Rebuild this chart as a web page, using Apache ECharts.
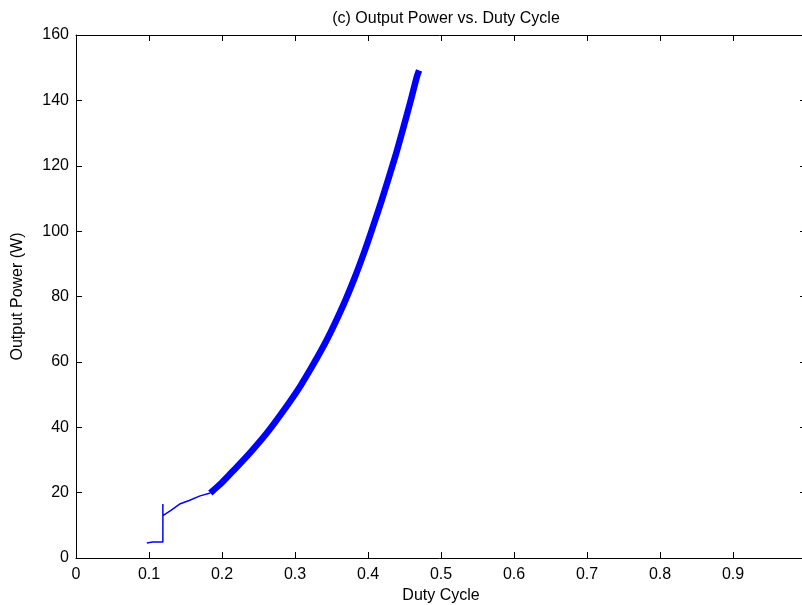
<!DOCTYPE html>
<html>
<head>
<meta charset="utf-8">
<script src="https://cdn.jsdelivr.net/npm/echarts@6/dist/echarts.min.js"></script>
<style>
  html, body { margin: 0; padding: 0; background: #fff; }
  #chart { width: 802px; height: 605px; }
</style>
</head>
<body>
<div id="chart"></div>
<script>
// Start-up transient: duty cycle and output power (W)
const startDuty  = [0.097, 0.099, 0.105, 0.112, 0.119, 0.119, 0.119, 0.121, 0.130, 0.142, 0.155, 0.170, 0.184];
const startPower = [4.6,   5.0,   4.9,   4.9,   4.9,   16.5,  13.0,  13.3,  14.6,  16.5,  17.6,  19.0,  19.9];

// Tracking trajectory: duty cycle and output power (W)
const trackDuty  = [0.184, 0.200, 0.215, 0.238, 0.262, 0.284, 0.307, 0.325, 0.344, 0.366, 0.382, 0.396, 0.407, 0.419, 0.437, 0.448, 0.458, 0.467, 0.470];
const trackPower = [19.9,  23.1,  26.6,  32.1,  38.4,  45.0,  52.5,  59.2,  66.9,  77.3,  85.9,  94.3,  101.5, 109.6, 122.6, 131.3, 139.5, 147.3, 149.2];

// Axis ticks
const xTicks = [0, 0.1, 0.2, 0.3, 0.4, 0.5, 0.6, 0.7, 0.8, 0.9, 1];
const yTicks = [0, 20, 40, 60, 80, 100, 120, 140, 160];

const FONT = '"Liberation Sans", Arial, sans-serif';
const TXT = '#000';

const pairs = (xs, ys) => xs.map((x, i) => [x, ys[i]]);

const chart = echarts.init(document.getElementById('chart'), null, { renderer: 'canvas' });

const tickStyle = { show: true, inside: true, length: 6, lineStyle: { color: '#000', width: 1 } };
const lineStyle = { show: true, onZero: false, lineStyle: { color: '#000', width: 1 } };

chart.setOption({
  animation: false,
  backgroundColor: '#fff',
  title: {
    text: '(c) Output Power vs. Duty Cycle',
    left: 441, top: 6, textAlign: 'center',
    textStyle: { fontFamily: FONT, fontSize: 16, fontWeight: 'normal', color: TXT }
  },
  grid: { left: 76, top: 35, width: 730, height: 523, containLabel: false, outerBoundsMode: 'none' },
  xAxis: [{
    type: 'value', position: 'bottom',
    min: xTicks[0], max: xTicks[xTicks.length - 1], interval: 0.1,
    name: 'Duty Cycle', nameLocation: 'middle', nameGap: 28,
    nameTextStyle: { fontFamily: FONT, fontSize: 16, color: TXT },
    axisLine: lineStyle, axisTick: tickStyle, splitLine: { show: false },
    axisLabel: {
      margin: 9, fontFamily: FONT, fontSize: 16, color: TXT,
      formatter: v => (v === 0 ? '0' : v >= 1 ? '' : v.toFixed(1))
    }
  }, {
    type: 'value', position: 'top',
    min: xTicks[0], max: xTicks[xTicks.length - 1], interval: 0.1,
    axisLine: lineStyle, axisTick: tickStyle, splitLine: { show: false },
    axisLabel: { show: false }
  }],
  yAxis: [{
    type: 'value', position: 'left',
    min: yTicks[0], max: yTicks[yTicks.length - 1], interval: 20,
    name: 'Output Power (W)', nameLocation: 'middle', nameGap: 50, nameRotate: 90,
    nameTextStyle: { fontFamily: FONT, fontSize: 16, color: TXT },
    axisLine: lineStyle, axisTick: tickStyle, splitLine: { show: false },
    axisLabel: { margin: 7, fontFamily: FONT, fontSize: 16, color: TXT }
  }, {
    type: 'value', position: 'right',
    min: yTicks[0], max: yTicks[yTicks.length - 1], interval: 20,
    axisLine: lineStyle, axisTick: tickStyle, splitLine: { show: false },
    axisLabel: { show: false }
  }],
  series: [{
    name: 'Start-up',
    type: 'line',
    data: pairs(startDuty, startPower),
    showSymbol: false, symbol: 'none',
    lineStyle: { color: '#0000ff', width: 1.5 },
    z: 3
  }, {
    name: 'Tracking',
    type: 'line',
    data: pairs(trackDuty, trackPower),
    showSymbol: false, symbol: 'none',
    smooth: 0.3,
    lineStyle: { color: '#0000ff', width: 6.5, cap: 'butt', join: 'round' },
    z: 4
  }]
});
</script>
</body>
</html>
